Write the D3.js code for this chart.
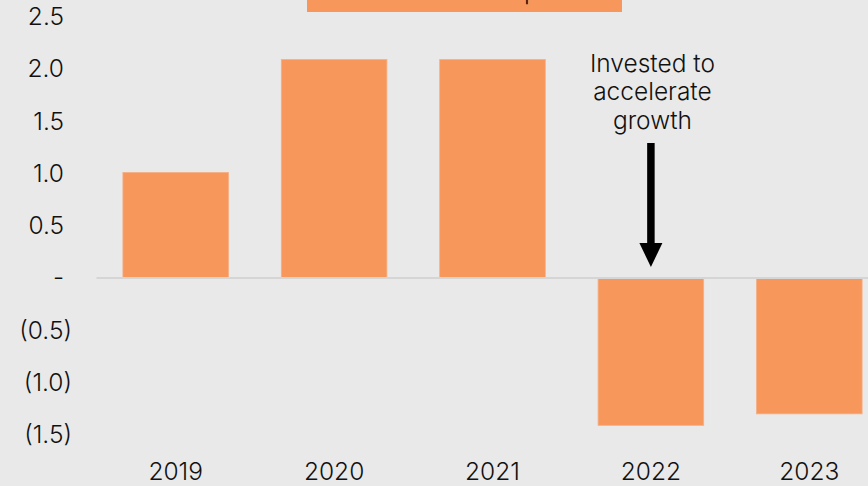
<!DOCTYPE html>
<html>
<head>
<meta charset="utf-8">
<script src="https://cdn.jsdelivr.net/npm/d3@7"></script>
<style>
  html, body { margin: 0; padding: 0; background: #e9e9e9; }
  svg { display: block; }
  text { font-family: Inter, "Noto Sans", sans-serif; font-weight: 300; fill: #111; }
</style>
</head>
<body>
<script>
// Yearly values (bn), shown in accounting style
const years = ["2019", "2020", "2021", "2022", "2023"];
const values = [1.01, 2.09, 2.09, -1.41, -1.30];
const yTicks = [2.5, 2.0, 1.5, 1.0, 0.5, 0, -0.5, -1.0, -1.5];
const titleText = "Cash flow from ops";
const noteLines = ["Invested to", "accelerate", "growth"];
const noteYear = "2022";

const W = 868, H = 486;
const FS = 24.5;
const svg = d3.select("body").append("svg").attr("width", W).attr("height", H);

const x = d3.scaleBand().domain(years).range([96.5, 888.5])
  .paddingInner(1 / 3).paddingOuter(1 / 6);
const y = d3.scaleLinear().domain([-1.5, 2.5]).range([434.75, 16.75]);

// Title banner, running off the top edge
const banner = svg.append("g");
banner.append("rect").attr("x", 307).attr("y", -40).attr("width", 315).attr("height", 52)
  .attr("fill", "#f8975b");
const title = banner.append("text").attr("x", 464.5).attr("y", -1.3).attr("text-anchor", "middle")
  .attr("font-size", FS).text(titleText);
// line the "p" of the title up under the banner's right half
const pIdx = titleText.lastIndexOf("p");
const pX = title.node().getStartPositionOfChar(pIdx).x;
title.attr("x", 464.5 + (524 - pX));

// Bars
svg.append("g").selectAll("rect").data(values).join("rect")
  .attr("x", (d, i) => x(years[i]))
  .attr("width", x.bandwidth())
  .attr("y", d => y(Math.max(0, d)))
  .attr("height", d => Math.abs(y(d) - y(0)))
  .attr("fill", "#f8975b")
  .attr("stroke", "#f6ae85").attr("stroke-width", 0.8);

// Zero line
svg.append("line").attr("x1", 96.5).attr("x2", W).attr("y1", y(0)).attr("y2", y(0))
  .attr("stroke", "#d5d5d5").attr("stroke-width", 2);

// Y axis labels: negatives in parentheses, zero as a dash
const fmt = d => d === 0 ? "-" : d < 0 ? "(" + d3.format(".1f")(-d) + ")" : d3.format(".1f")(d);
const yAxis = d3.axisLeft(y).tickValues(yTicks).tickFormat(fmt).tickSize(0).tickPadding(0);
const ya = svg.append("g").call(yAxis);
ya.select(".domain").remove();
ya.selectAll(".tick text")
  .attr("x", d => d < 0 ? 72 : 64)
  .attr("font-size", FS).attr("font-family", null).attr("fill", "#111");

// X axis labels
const xAxis = d3.axisBottom(x).tickSize(0).tickPadding(0);
const xa = svg.append("g").attr("transform", "translate(0,462)").call(xAxis);
xa.select(".domain").remove();
xa.selectAll(".tick text").attr("font-size", FS).attr("font-family", null)
  .attr("fill", "#111").attr("dy", "0.72em");

// Annotation over the 2022 bar
const cx = x(noteYear) + x.bandwidth() / 2;
const note = svg.append("g");
note.selectAll("text").data(noteLines).join("text")
  .attr("x", cx + 1.5).attr("y", (d, i) => 71.5 + i * 28.5)
  .attr("text-anchor", "middle").attr("font-size", FS).text(d => d);
note.append("line").attr("x1", cx).attr("x2", cx).attr("y1", 143).attr("y2", 246)
  .attr("stroke", "#000").attr("stroke-width", 7.5);
note.append("path")
  .attr("d", `M${cx - 11.5},243 L${cx + 11.5},243 L${cx},267 Z`).attr("fill", "#000");
</script>
</body>
</html>
